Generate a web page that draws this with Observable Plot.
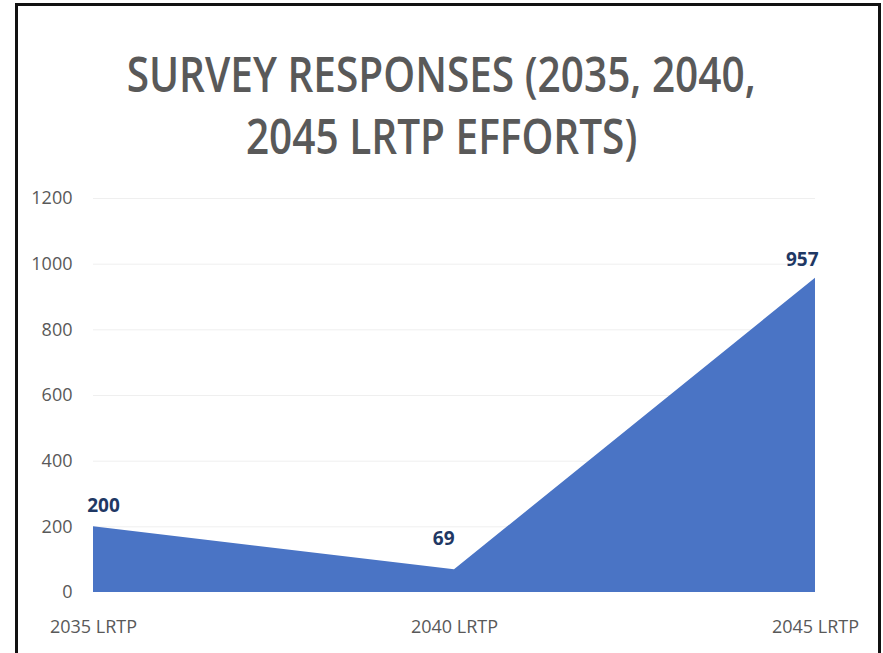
<!DOCTYPE html>
<html>
<head>
<meta charset="utf-8">
<script src="https://cdn.jsdelivr.net/npm/d3@7"></script>
<script src="https://cdn.jsdelivr.net/npm/@observablehq/plot@0.6"></script>
<style>
  html, body { margin: 0; padding: 0; background: #fff; }
  #frame {
    position: absolute; left: 15px; top: 3px; width: 866px; height: 700px;
    border-top: 3px solid #111; border-left: 3px solid #111; border-right: 3px solid #111;
    box-sizing: border-box;
  }
  #wrap { position: absolute; left: 0; top: 0; width: 883px; }
  #title {
    height: 185px; box-sizing: border-box; padding-top: 43px;
    text-align: center; color: #595959;
    font-family: "Open Sans", sans-serif;
    font-size: 48px; line-height: 62px; font-weight: 600;
  }
  #title span { display: inline-block; transform: scaleX(0.845); white-space: nowrap; }
  svg { display: block; }
</style>
</head>
<body>
<div id="frame"></div>
<div id="wrap">
  <div id="title"><span>SURVEY RESPONSES (2035, 2040,</span><br><span>2045 LRTP EFFORTS)</span></div>
  <div id="chart"></div>
</div>
<script>
const categories = ["2035 LRTP", "2040 LRTP", "2045 LRTP"];
const responses = [200, 69, 957];
const yTicks = [0, 200, 400, 600, 800, 1000, 1200];

const data = categories.map((c, i) => ({category: c, value: responses[i]}));
const labelStyle = {x: "category", y: "value", text: d => String(d.value), fill: "#1f3864", fontWeight: "bold", fontSize: 19};

const chart = Plot.plot({
  width: 883,
  height: 468,
  marginLeft: 93,
  marginRight: 68,
  marginTop: 13,
  marginBottom: 61,
  style: {fontFamily: "'Open Sans', sans-serif", fontSize: "18px", color: "#595959", background: "transparent"},
  x: {type: "point", domain: categories, padding: 0, label: null},
  y: {domain: [0, 1200], ticks: yTicks, label: null},
  marks: [
    Plot.gridY(yTicks.slice(1), {stroke: "#efefef", strokeOpacity: 1}),
    Plot.areaY(data, {x: "category", y: "value", fill: "#4a74c5", curve: "linear"}),
    Plot.axisY({ticks: yTicks, tickFormat: d3.format("d"), tickSize: 0, tickPadding: 21, fill: "#595959", fontSize: 18}),
    Plot.axisX({tickSize: 0, tickPadding: 28, fill: "#595959", fontSize: 18}),
    Plot.text(data, {...labelStyle, filter: (d, i) => i === 0, dx: 10, dy: -21}),
    Plot.text(data, {...labelStyle, filter: (d, i) => i === 1, textAnchor: "end", dx: 0, dy: -31}),
    Plot.text(data, {...labelStyle, filter: (d, i) => i === 2, textAnchor: "end", dx: 3, dy: -18})
  ]
});
document.getElementById("chart").appendChild(chart);
</script>
</body>
</html>
